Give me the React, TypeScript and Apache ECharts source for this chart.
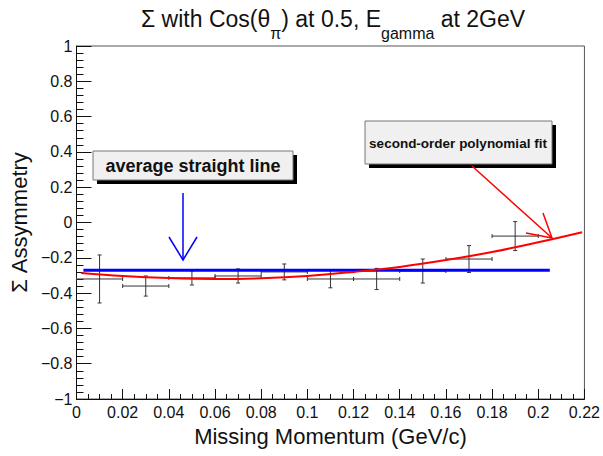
import React, { useEffect, useRef } from "react";
import * as echarts from "echarts";

// Measured points: [x, y, xErr, yErr]
const pointX = [0.01, 0.03, 0.05, 0.07, 0.09, 0.11, 0.13, 0.15, 0.17, 0.19];
const pointY = [-0.32, -0.36, -0.314, -0.303, -0.28, -0.32, -0.32, -0.275, -0.207, -0.077];
const pointXErr = [0.01, 0.01, 0.01, 0.01, 0.01, 0.01, 0.01, 0.01, 0.01, 0.01];
const pointYErr = [0.136, 0.057, 0.04, 0.04, 0.045, 0.05, 0.06, 0.068, 0.076, 0.082];

// Average straight line
const avgX = [0.003, 0.205];
const avgY = [-0.27, -0.27];

// Second-order polynomial fit
const fitX = [0.002, 0.02, 0.04, 0.06, 0.08, 0.1, 0.12, 0.14, 0.16, 0.18, 0.2, 0.219];
const fitY = [-0.286, -0.303, -0.315, -0.32, -0.316, -0.303, -0.28, -0.252, -0.213, -0.167, -0.112, -0.055];

const FONT = "'Liberation Sans', Arial, Helvetica, sans-serif";

export default function App() {
  const ref = useRef<HTMLDivElement>(null);
  useEffect(() => {
    document.body.style.margin = "0";
    const chart = echarts.init(ref.current!, null, { renderer: "svg" });
    const errData = pointX.map((x, i) => [x, pointY[i], pointXErr[i], pointYErr[i]]);
    const option: any = {
      animation: false,
      backgroundColor: "#ffffff",
      title: {
        left: 136,
        top: 2,
        text: "{m|Σ with Cos(θ}{s|π}{m|) at 0.5, E}{s|gamma}{m| at 2GeV}",
        textStyle: {
          fontWeight: "normal",
          rich: {
            m: { fontFamily: FONT, fontSize: 23, fontWeight: "normal", color: "#111", lineHeight: 34, verticalAlign: "top" },
            s: { fontFamily: FONT, fontSize: 16, fontWeight: "normal", color: "#111", lineHeight: 18, verticalAlign: "bottom" },
          },
          lineHeight: 46,
        },
      },
      grid: {
        left: 75,
        right: 15,
        top: 46,
        bottom: 57,
        show: true,
        borderColor: "#555",
        borderWidth: 1,
        backgroundColor: "transparent",
      },
      xAxis: {
        type: "value",
        min: 0,
        max: 0.22,
        interval: 0.02,
        name: "Missing Momentum (GeV/c)",
        nameLocation: "middle",
        nameGap: 26,
        nameTextStyle: { fontFamily: FONT, fontSize: 22, color: "#111" },
        axisLine: { show: true, onZero: false, lineStyle: { color: "#111", width: 1 } },
        axisTick: { show: true, inside: true, length: 10, lineStyle: { color: "#111" } },
        minorTick: { show: true, splitNumber: 4, length: 5, lineStyle: { color: "#111" } },
        splitLine: { show: false },
        axisLabel: {
          fontFamily: FONT,
          fontSize: 16,
          color: "#111",
          margin: 5,
          showMinLabel: true,
          showMaxLabel: true,
          formatter: (v: number) => String(+v.toFixed(2)),
        },
      },
      yAxis: {
        type: "value",
        min: -1,
        max: 1,
        interval: 0.2,
        name: "Σ Assymmetry",
        nameLocation: "middle",
        nameGap: 46,
        nameTextStyle: { fontFamily: FONT, fontSize: 22, color: "#111" },
        axisLine: { show: true, onZero: false, lineStyle: { color: "#111", width: 1 } },
        axisTick: { show: true, inside: true, length: 15, lineStyle: { color: "#111" } },
        minorTick: { show: true, splitNumber: 5, length: 7, lineStyle: { color: "#111" } },
        splitLine: { show: false },
        axisLabel: {
          fontFamily: FONT,
          fontSize: 16,
          color: "#111",
          margin: 4,
          showMinLabel: true,
          showMaxLabel: true,
          formatter: (v: number) => String(+v.toFixed(1)).replace("-", "−"),
        },
      },
      series: [
        {
          type: "custom",
          name: "data",
          data: errData,
          encode: { x: 0, y: 1 },
          z: 2,
          renderItem: (params: any, api: any) => {
            const x = api.value(0);
            const y = api.value(1);
            const xe = api.value(2);
            const ye = api.value(3);
            const pL = api.coord([x - xe, y]);
            const pR = api.coord([x + xe, y]);
            const pT = api.coord([x, y + ye]);
            const pB = api.coord([x, y - ye]);
            const st = { stroke: "#333", lineWidth: 1 };
            const c = 2;
            return {
              type: "group",
              children: [
                { type: "line", shape: { x1: pL[0], y1: pL[1], x2: pR[0], y2: pR[1] }, style: st },
                { type: "line", shape: { x1: pT[0], y1: pT[1], x2: pB[0], y2: pB[1] }, style: st },
                { type: "line", shape: { x1: pT[0] - c, y1: pT[1], x2: pT[0] + c, y2: pT[1] }, style: st },
                { type: "line", shape: { x1: pB[0] - c, y1: pB[1], x2: pB[0] + c, y2: pB[1] }, style: st },
                { type: "line", shape: { x1: pL[0], y1: pL[1] - c, x2: pL[0], y2: pL[1] + c }, style: st },
                { type: "line", shape: { x1: pR[0], y1: pR[1] - c, x2: pR[0], y2: pR[1] + c }, style: st },
              ],
            };
          },
        },
        {
          type: "line",
          name: "average",
          data: avgX.map((x, i) => [x, avgY[i]]),
          symbol: "none",
          z: 3,
          lineStyle: { color: "#0000ff", width: 3 },
        },
        {
          type: "line",
          name: "fit",
          data: fitX.map((x, i) => [x, fitY[i]]),
          symbol: "none",
          smooth: 0.4,
          z: 4,
          lineStyle: { color: "#ff0000", width: 2 },
        },
      ],
      graphic: [
        // average straight line box
        { type: "rect", shape: { x: 97, y: 155, width: 200, height: 29 }, style: { fill: "#000" }, z: 10 },
        { type: "rect", shape: { x: 93, y: 151, width: 200, height: 29 }, style: { fill: "#f0f0f0", stroke: "#777", lineWidth: 1 }, z: 11 },
        {
          type: "text",
          x: 193,
          y: 166,
          z: 12,
          style: { text: "average straight line", font: `bold 18px ${FONT}`, fill: "#111", align: "center", verticalAlign: "middle" },
        },
        // polynomial fit box
        { type: "rect", shape: { x: 369, y: 125, width: 187, height: 43 }, style: { fill: "#000" }, z: 10 },
        { type: "rect", shape: { x: 365, y: 121, width: 187, height: 43 }, style: { fill: "#f0f0f0", stroke: "#777", lineWidth: 1 }, z: 11 },
        {
          type: "text",
          x: 458,
          y: 143,
          z: 12,
          style: { text: "second-order polynomial fit", font: `bold 13.5px ${FONT}`, fill: "#111", align: "center", verticalAlign: "middle" },
        },
        // blue arrow
        { type: "line", shape: { x1: 183, y1: 193, x2: 183, y2: 260 }, style: { stroke: "#0000ff", lineWidth: 1.5 }, z: 12 },
        { type: "polyline", shape: { points: [[169, 237], [183, 260], [197, 237]] }, style: { stroke: "#0000ff", lineWidth: 1.5, fill: "none" }, z: 12 },
        // red arrow
        { type: "line", shape: { x1: 472, y1: 166, x2: 552, y2: 238 }, style: { stroke: "#ff0000", lineWidth: 1.5 }, z: 12 },
        { type: "polyline", shape: { points: [[543, 213], [552, 238], [526, 233]] }, style: { stroke: "#ff0000", lineWidth: 1.5, fill: "none" }, z: 12 },
      ],
    };
    chart.setOption(option);
    return () => chart.dispose();
  }, []);
  return <div ref={ref} style={{ position: "absolute", left: 0, top: 0, width: 603, height: 456 }} />;
}
